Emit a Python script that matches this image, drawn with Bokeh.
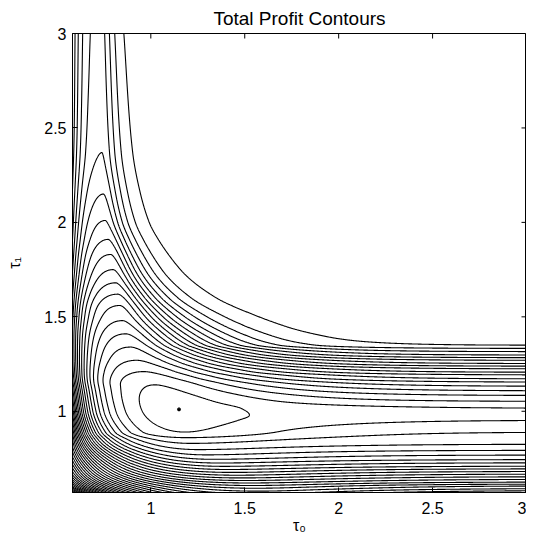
import numpy as np
from bokeh.plotting import figure
from bokeh.models import FixedTicker, CustomJSTickFormatter, Range1d
from bokeh.embed import file_html
from bokeh.resources import INLINE

# ---------------- values ----------------
title_text = "Total Profit Contours"
x_label = "τ₀"
y_label = "τ₁"
x_ticks = [1, 1.5, 2, 2.5, 3]
y_ticks = [1, 1.5, 2, 2.5, 3]
x_limits = [0.583, 3.0]
y_limits = [0.57, 3.0]

# equally spaced profit levels (0 = innermost closed loop)
contour_levels = list(range(-45, 1))

# optimum marker
optimum_x = [1.15]
optimum_y = [1.01]

# heights where each level meets the right edge (tau0 = 3)
edge_levels_lower = [-19, -18, -17, -16, -15, -14, -13, -12, -11, -10,
                     -9, -8, -7, -6, -5, -4, -3, -2, -1]
edge_y_lower = [0.568, 0.579, 0.590, 0.604, 0.614, 0.625, 0.639, 0.653, 0.667, 0.681,
                0.695, 0.709, 0.727, 0.744, 0.768, 0.793, 0.825, 0.888, 0.951]
edge_peak_y = 0.975
edge_peak_level = -0.8
edge_levels_upper = [-1, -2, -3, -4, -5, -6, -7, -8, -9, -10,
                     -11, -12, -13, -14, -15, -16, -17, -18]
edge_y_upper = [1.017, 1.053, 1.084, 1.109, 1.133, 1.155, 1.172, 1.193, 1.207, 1.225,
                1.239, 1.253, 1.270, 1.284, 1.298, 1.316, 1.333, 1.350]
plateau_y = [1.39, 1.45, 3.0]
plateau_level = [-18.45, -18.6, -18.6]

# level reached at the left edge (tau0 = 0.583)
left_edge_y = [0.50, 0.57, 0.60, 0.65, 0.70, 0.75, 0.80, 0.85, 0.90, 0.95, 1.00,
               1.10, 1.20, 1.30, 1.40, 1.50, 1.75, 2.00, 2.50, 3.00]
left_edge_level = [-55, -42, -37, -32, -29, -26.5, -24.5, -23, -21.5, -20, -18.6,
                   -16.6, -14.6, -14.0, -13.9, -14.3, -16.1, -17.4, -18.7, -19.0]

# crest of each horizontal profile: its height (level) and position
ridge_y = [0.50, 0.57, 0.60, 0.65, 0.70, 0.75, 0.80, 0.85, 0.89, 1.01, 1.14, 1.21, 1.27,
           1.34, 1.41, 1.48, 1.56, 1.62, 1.68, 1.75, 1.83, 1.91, 2.01, 2.15, 2.37, 2.7, 3.0]
ridge_level = [-22.5, -16.5, -14.5, -10.8, -7.5, -4.8, -2.9, -1.4, 0.0, 0.55, 0.0, -1, -2,
               -3, -4, -5, -6, -7, -8, -9, -10, -11, -12, -13, -14, -14.4, -14.6]
ridge_pos_y = [0.50, 0.57, 0.70, 0.85, 1.00, 1.10, 1.20, 1.30, 1.40, 1.50, 1.60, 1.75,
               1.90, 2.00, 2.15, 2.37, 3.00]
ridge_pos_x = [1.62, 1.58, 1.40, 1.20, 1.14, 1.06, 0.97, 0.91, 0.87, 0.845, 0.828, 0.80,
               0.775, 0.758, 0.748, 0.74, 0.735]
# how fast the crest fades towards the right edge
decay_y = [0.50, 0.85, 0.95, 1.00, 1.10, 1.20, 1.30, 1.40, 1.50, 1.60, 1.75, 2.00, 2.37, 3.00]
decay_len = [0.36, 0.30, 0.28, 0.28, 0.30, 0.28, 0.25, 0.20, 0.15, 0.11, 0.08, 0.058, 0.046, 0.036]
# shape of the fall towards the left edge
wall_shape_y = [0.50, 0.72, 0.85, 1.00, 3.00]
wall_origin = [-0.6, -0.6, 0.0, 0.2, 0.2]


def pchip(xk, yk, xq):
    xk = np.asarray(xk, float)
    yk = np.asarray(yk, float)
    xq = np.clip(np.asarray(xq, float), xk[0], xk[-1])
    h = np.diff(xk)
    d = np.diff(yk) / h
    n = len(xk)
    m = np.zeros(n)
    for k in range(1, n - 1):
        if d[k - 1] * d[k] > 0:
            w1 = 2 * h[k] + h[k - 1]
            w2 = h[k] + 2 * h[k - 1]
            m[k] = (w1 + w2) / (w1 / d[k - 1] + w2 / d[k])
    m[0] = d[0]
    m[-1] = d[-1]
    i = np.clip(np.searchsorted(xk, xq, side="right") - 1, 0, n - 2)
    t = (xq - xk[i]) / h[i]
    h00 = 2 * t**3 - 3 * t**2 + 1
    h10 = t**3 - 2 * t**2 + t
    h01 = -2 * t**3 + 3 * t**2
    h11 = t**3 - t**2
    return h00 * yk[i] + h10 * h[i] * m[i] + h01 * yk[i + 1] + h11 * h[i] * m[i + 1]


# right-edge profile nodes
f_nodes_y = [0.50] + edge_y_lower + [edge_peak_y] + edge_y_upper + plateau_y
f_nodes_v = [-25.2] + edge_levels_lower + [edge_peak_level] + edge_levels_upper + plateau_level

xs = np.linspace(x_limits[0], x_limits[1], 760)
ys = np.linspace(y_limits[0], y_limits[1], 760)
X, Y = np.meshgrid(xs, ys)
yv = ys[:, None]

F = pchip(f_nodes_y, f_nodes_v, yv)
R = pchip(ridge_y, ridge_level, yv)
XR = pchip(ridge_pos_y, ridge_pos_x, yv)
L = pchip(decay_y, decay_len, yv)
X0 = pchip(wall_shape_y, wall_origin, yv)
FW = pchip(left_edge_y, left_edge_level, yv)

# left of the crest: fall from the crest level to the left-edge level
u = X - X0
r = XR - X0
uw = x_limits[0] - X0
S = ((1.0 / u - 1.0 / r) / (1.0 / uw - 1.0 / r)) ** 2
left = R - (R - FW) * S
# right of the crest: fade to the right-edge profile
t = np.maximum(X - XR, 0.0) / L
E = (1 + t) * np.exp(-t)
t3 = (x_limits[1] - XR) / L
E3 = (1 + t3) * np.exp(-t3)
En = (E - E3) / (1 - E3)
right = F + (R - F) * En
Z = np.where(X <= XR, left, right)

p = figure(width=526, height=538,
           x_range=Range1d(x_limits[0], x_limits[1]),
           y_range=Range1d(y_limits[0], y_limits[1]),
           output_backend="svg", toolbar_location=None, title=title_text,
           min_border_left=72, min_border_right=0, min_border_top=32,
           min_border_bottom=46)

p.contour(x=xs, y=ys, z=Z, levels=contour_levels, line_color="black", line_width=1.1)
p.scatter(x=optimum_x, y=optimum_y, size=3, color="black")

# inward tick marks on the top and right frame edges
p.scatter(x=x_ticks, y=[y_limits[1]] * len(x_ticks), marker="dash", angle=np.pi / 2,
          size=10, line_color="black", line_width=1)
p.scatter(x=[x_limits[1]] * len(y_ticks), y=y_ticks, marker="dash", angle=0,
          size=10, line_color="black", line_width=1)

p.grid.visible = False
p.outline_line_color = "black"
p.outline_line_width = 1
p.background_fill_color = "white"
p.border_fill_color = "white"

p.title.text_font = "Liberation Sans"
p.title.text_font_size = "19px"
p.title.text_font_style = "normal"
p.title.align = "center"
p.title.text_color = "black"
p.title.standoff = 10

fmt = CustomJSTickFormatter(code="return String(tick);")
p.xaxis.ticker = FixedTicker(ticks=x_ticks)
p.yaxis.ticker = FixedTicker(ticks=y_ticks)
p.xaxis.formatter = fmt
p.yaxis.formatter = fmt
p.xaxis.axis_label = x_label
p.yaxis.axis_label = y_label
for ax in (p.xaxis[0], p.yaxis[0]):
    ax.major_tick_in = 5
    ax.major_tick_out = 0
    ax.minor_tick_in = 0
    ax.minor_tick_out = 0
    ax.axis_line_color = "black"
    ax.major_tick_line_color = "black"
    ax.major_label_text_font = "Liberation Sans"
    ax.major_label_text_font_size = "16px"
    ax.major_label_text_color = "black"
    ax.axis_label_text_font = "Liberation Sans"
    ax.axis_label_text_font_size = "16px"
    ax.axis_label_text_font_style = "normal"
    ax.axis_label_text_color = "black"
p.xaxis.major_label_standoff = 9
p.yaxis.major_label_standoff = 6
p.xaxis.axis_label_standoff = 0
p.yaxis.axis_label_standoff = 18

open("out.html", "w").write(file_html(p, INLINE))
